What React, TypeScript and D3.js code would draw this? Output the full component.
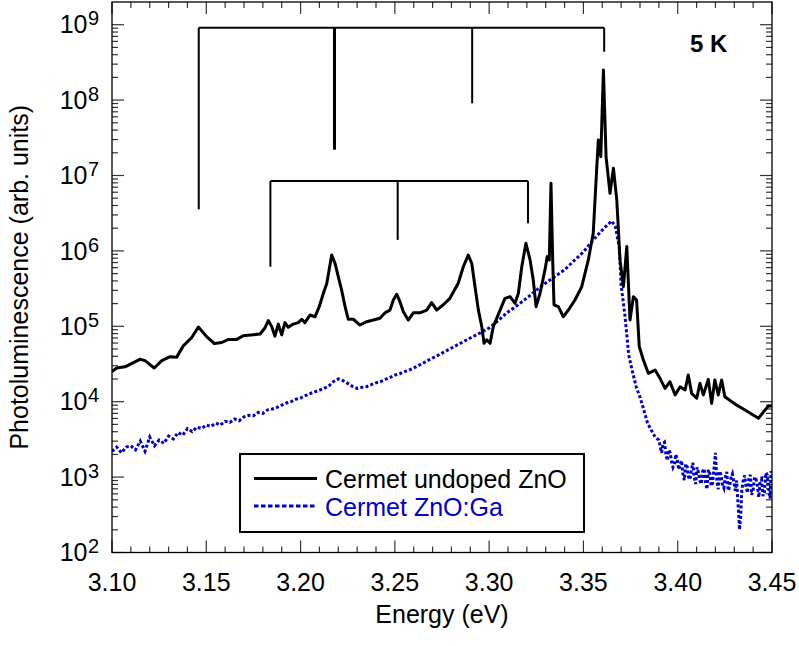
import React from "react";
import * as d3 from "d3";

// Energy (eV), PL intensity (arb. units)
const undopedZnO: [number, number][] = [
  [3.100, 2.5e4], [3.1025, 2.8e4], [3.1069, 2.9e4], [3.1148, 3.65e4], [3.1175, 3.5e4], [3.1224, 2.8e4],
  [3.1264, 3.5e4], [3.1308, 3.95e4], [3.1343, 3.9e4], [3.1378, 5.5e4], [3.1423, 7.1e4], [3.1458, 9.8e4],
  [3.1502, 7.3e4], [3.1543, 5.9e4], [3.1582, 6.1e4], [3.1617, 6.7e4], [3.1661, 6.7e4], [3.1696, 7.5e4],
  [3.1785, 7.9e4], [3.1811, 9.5e4], [3.1829, 1.19e5], [3.1847, 9.9e4], [3.1864, 7.4e4], [3.1882, 1.07e5],
  [3.19, 7.7e4], [3.1917, 1.12e5], [3.1935, 9.7e4], [3.1961, 1.07e5], [3.1988, 1.12e5], [3.2006, 1.24e5],
  [3.2023, 1.12e5], [3.205, 1.41e5], [3.2077, 1.34e5], [3.2099, 1.82e5], [3.2121, 2.74e5], [3.2139, 3.7e5],
  [3.2165, 8.8e5], [3.2183, 6.8e5], [3.2218, 3.0e5], [3.2236, 1.82e5], [3.2253, 1.24e5], [3.228, 1.24e5],
  [3.2315, 1.04e5], [3.2351, 1.15e5], [3.2386, 1.21e5], [3.2421, 1.28e5], [3.2448, 1.51e5], [3.2474, 1.64e5],
  [3.2492, 2.23e5], [3.251, 2.66e5], [3.2527, 2.12e5], [3.2545, 1.56e5], [3.2571, 1.21e5], [3.2598, 1.51e5],
  [3.2633, 1.51e5], [3.2669, 1.64e5], [3.2695, 2.06e5], [3.2722, 1.64e5], [3.2757, 1.93e5], [3.2792, 2.35e5],
  [3.2836, 3.72e5], [3.2863, 6.17e5], [3.2889, 8.8e5], [3.2908, 6.8e5], [3.2925, 3.35e5], [3.2943, 1.64e5],
  [3.2961, 9.9e4], [3.2973, 5.95e4], [3.2987, 6.6e4], [3.3005, 5.95e4], [3.3022, 9.9e4], [3.3058, 1.64e5],
  [3.3084, 2.35e5], [3.3111, 2.47e5], [3.3137, 2.02e5], [3.3155, 2.74e5], [3.3173, 6.17e5], [3.3195, 1.26e6],
  [3.3217, 7.6e5], [3.3234, 4.1e5], [3.3249, 1.82e5], [3.327, 2.74e5], [3.3296, 5.6e5], [3.3308, 8.4e5],
  [3.3319, 7.6e5], [3.3328, 7.9e6], [3.3337, 7.6e5], [3.3344, 1.92e5], [3.3367, 1.82e5], [3.3393, 1.34e5],
  [3.342, 1.64e5], [3.3455, 2.23e5], [3.3491, 3.35e5], [3.3526, 7.6e5], [3.3552, 1.71e6], [3.357, 1.18e7],
  [3.3579, 2.96e7], [3.3592, 1.78e7], [3.3606, 2.5e8], [3.362, 1.78e7], [3.3641, 5.8e6], [3.3659, 1.25e7],
  [3.3677, 4.7e6], [3.3694, 7.6e5], [3.3712, 3.35e5], [3.373, 1.14e6], [3.3747, 1.21e5], [3.3765, 2.47e5],
  [3.3782, 2.23e5], [3.3796, 5.4e4], [3.3818, 3.57e4], [3.3844, 2.38e4], [3.388, 2.63e4], [3.3906, 2.04e4],
  [3.3933, 1.5e4], [3.3959, 1.84e4], [3.3986, 1.23e4], [3.4013, 1.58e4], [3.4039, 1.43e4], [3.4056, 2.26e4],
  [3.4074, 1.29e4], [3.4101, 1.11e4], [3.4118, 1.75e4], [3.4136, 1.23e4], [3.4162, 1.98e4], [3.418, 9.5e3],
  [3.4197, 1.94e4], [3.4215, 1.23e4], [3.4233, 1.94e4], [3.425, 1.16e4], [3.4313, 9.0e3], [3.4357, 7.76e3],
  [3.4428, 6.03e3], [3.4481, 8.8e3], [3.45, 8.8e3],
];

const znoGa: [number, number][] = [
  [3.100, 2.2e3], [3.1025, 2.5e3], [3.105, 2.1e3], [3.1075, 2.5e3], [3.110, 2.6e3], [3.1125, 2.3e3],
  [3.115, 3.0e3], [3.1175, 2.2e3], [3.120, 3.4e3], [3.1225, 2.6e3], [3.125, 3.1e3], [3.1275, 2.8e3],
  [3.130, 3.5e3], [3.1325, 3.2e3], [3.135, 3.9e3], [3.1375, 3.6e3], [3.140, 4.4e3], [3.1425, 4.0e3],
  [3.145, 4.6e3], [3.1475, 4.4e3], [3.150, 4.9e3], [3.1525, 4.7e3], [3.155, 5.2e3], [3.1575, 4.9e3],
  [3.160, 5.5e3], [3.1625, 5.3e3], [3.165, 5.9e3], [3.1675, 5.6e3], [3.170, 6.3e3], [3.1725, 6.6e3],
  [3.175, 6.5e3], [3.1775, 7.2e3], [3.180, 7.0e3], [3.1825, 7.8e3], [3.185, 8.0e3], [3.1875, 8.4e3],
  [3.190, 9.0e3], [3.1925, 9.6e3], [3.195, 1.0e4], [3.1975, 1.08e4], [3.200, 1.12e4], [3.2025, 1.2e4],
  [3.205, 1.28e4], [3.2075, 1.35e4], [3.210, 1.42e4], [3.2125, 1.5e4], [3.215, 1.62e4], [3.2175, 1.85e4],
  [3.220, 2.0e4], [3.2225, 1.9e4], [3.225, 1.75e4], [3.2275, 1.6e4], [3.230, 1.5e4], [3.2325, 1.55e4],
  [3.235, 1.58e4], [3.2375, 1.68e4], [3.240, 1.78e4], [3.2425, 1.85e4], [3.245, 1.98e4], [3.2475, 2.1e4],
  [3.250, 2.25e4], [3.2525, 2.35e4], [3.255, 2.5e4], [3.2575, 2.62e4], [3.260, 2.8e4], [3.265, 3.25e4],
  [3.270, 3.8e4], [3.275, 4.4e4], [3.280, 5.15e4], [3.285, 6.0e4], [3.290, 7.0e4], [3.295, 8.1e4],
  [3.300, 9.5e4], [3.305, 1.2e5], [3.310, 1.55e5], [3.315, 1.9e5], [3.320, 2.37e5], [3.325, 3.0e5],
  [3.330, 3.75e5], [3.335, 4.6e5], [3.340, 5.6e5], [3.345, 7.4e5], [3.350, 9.7e5], [3.355, 1.38e6],
  [3.360, 1.89e6], [3.363, 2.25e6], [3.365, 2.5e6], [3.367, 2.07e6], [3.369, 1.12e6], [3.370, 3.5e5],
  [3.372, 1.4e5], [3.374, 4.2e4], [3.376, 2.5e4], [3.378, 1.57e4], [3.380, 1.15e4], [3.382, 7.8e3],
  [3.384, 5.2e3], [3.386, 4.2e3], [3.388, 3.4e3],
  [3.3900, 3.1e3], [3.39075, 2.5e3], [3.3915, 2.1e3], [3.39225, 2.8e3], [3.3930, 2.9e3], [3.39375, 2.0e3],
  [3.3945, 1.66e3], [3.39525, 2.3e3], [3.3960, 2.1e3], [3.39675, 1.6e3], [3.3975, 1.35e3], [3.39825, 1.5e3],
  [3.3990, 2.0e3], [3.39975, 1.7e3], [3.4005, 1.26e3], [3.40125, 1.45e3], [3.4020, 1.66e3], [3.40275, 1.1e3],
  [3.4035, 9.1e2], [3.40425, 1.5e3], [3.4050, 1.38e3], [3.40575, 1.0e3], [3.4065, 9.3e2], [3.40725, 1.25e3],
  [3.4080, 1.55e3], [3.40875, 1.0e3], [3.4095, 8.1e2], [3.41025, 1.35e3], [3.4110, 1.15e3], [3.41175, 9.0e2],
  [3.4125, 8.1e2], [3.41325, 1.2e3], [3.4140, 1.29e3], [3.41475, 8.6e2], [3.4155, 6.9e2], [3.41625, 1.25e3],
  [3.4170, 1.12e3], [3.41775, 7.6e2], [3.4185, 8.3e2], [3.41925, 1.3e3], [3.4200, 2.1e3], [3.42075, 9.0e2],
  [3.4215, 6.9e2], [3.42225, 1.2e3], [3.4230, 1.05e3], [3.42375, 8.0e2], [3.4245, 7.2e2], [3.42525, 1.0e3],
  [3.4260, 1.17e3], [3.42675, 6.6e2], [3.4275, 7.4e2], [3.42825, 9.8e2], [3.4290, 1.1e3], [3.42975, 8.6e2],
  [3.4305, 6.6e2], [3.43125, 9.0e2], [3.4320, 4.4e2], [3.4328, 2.0e2], [3.4334, 3.0e2], [3.4340, 6.8e2],
  [3.43475, 9.0e2], [3.4355, 1.05e3], [3.43625, 7.4e2], [3.4370, 6.2e2], [3.43775, 9.6e2], [3.4385, 1.07e3],
  [3.43925, 5.8e2], [3.4400, 6.8e2], [3.44075, 1.0e3], [3.4415, 9.5e2], [3.44225, 7.6e2], [3.4430, 5.4e2],
  [3.44375, 8.8e2], [3.4445, 9.3e2], [3.44525, 5.6e2], [3.4460, 6.3e2], [3.44675, 1.15e3], [3.4475, 1.07e3],
  [3.44825, 7.0e2], [3.4490, 5.2e2], [3.4495, 1.2e3], [3.4500, 1.07e3],
];

// LO-phonon replica markers
const upperBracketLevel = 9.1e8;
const upperBracketE = [3.146, 3.218, 3.291, 3.361];
const upperBracketEnds = [3.56e6, 2.2e7, 9.07e7, 4.38e8];
const lowerBracketLevel = 8.45e6;
const lowerBracketE = [3.184, 3.2515, 3.3206];
const lowerBracketEnds = [6.17e5, 1.4e6, 2.32e6];

const xTickLabels = ["3.10", "3.15", "3.20", "3.25", "3.30", "3.35", "3.40", "3.45"];
const yDecadeExponents = [2, 3, 4, 5, 6, 7, 8, 9];
const seriesNames = ["Cermet undoped ZnO", "Cermet ZnO:Ga"];
const temperatureLabel = "5 K";
const xTitle = "Energy (eV)";
const yTitle = "Photoluminescence (arb. units)";

const W = 799;
const H = 646;
const L = 112;
const R = 772;
const T = 2;
const B = 552.5;
const FONT = "'Liberation Sans', Arial, Helvetica, sans-serif";
const BLUE = "#0000cc";

export default function App() {
  const x = d3.scaleLinear().domain([3.1, 3.45]).range([L, R]);
  const y = d3.scaleLog().domain([100, 2e9]).range([B, T]);

  const line = d3
    .line<[number, number]>()
    .x((d) => x(d[0]))
    .y((d) => y(d[1]));

  const xMinor: { v: number; major: boolean }[] = [];
  for (let i = 0; i <= 35; i++) {
    xMinor.push({ v: 3.1 + i * 0.01, major: i % 5 === 0 });
  }
  const yTicks: { v: number; major: boolean }[] = [];
  yDecadeExponents.forEach((e) => {
    yTicks.push({ v: Math.pow(10, e), major: true });
    if (e < 9) for (let m = 2; m <= 9; m++) yTicks.push({ v: m * Math.pow(10, e), major: false });
  });

  const majLen = 12;
  const minLen = 6;

  return (
    <svg
      width={W}
      height={H}
      style={{ position: "absolute", left: 0, top: 0, background: "#fff" }}
      fontFamily={FONT}
    >
      <rect x={0} y={0} width={W} height={H} fill="#fff" />
      <defs>
        <clipPath id="plotclip">
          <rect x={L} y={T} width={R - L} height={B - T} />
        </clipPath>
      </defs>

      {/* ticks */}
      <g stroke="#333" strokeWidth={1.2}>
        {xMinor.map((t, i) => {
          const len = t.major ? majLen : minLen;
          const px = x(t.v);
          return (
            <g key={"xt" + i}>
              <line x1={px} x2={px} y1={B} y2={B - len} />
              <line x1={px} x2={px} y1={T} y2={T + len} />
            </g>
          );
        })}
        {yTicks.map((t, i) => {
          const len = t.major ? majLen : minLen;
          const py = y(t.v);
          return (
            <g key={"yt" + i}>
              <line x1={L} x2={L + len} y1={py} y2={py} />
              <line x1={R} x2={R - len} y1={py} y2={py} />
            </g>
          );
        })}
      </g>

      {/* phonon replica brackets */}
      <g stroke="#000" fill="none" strokeWidth={2}>
        <line
          x1={x(upperBracketE[0])}
          x2={x(upperBracketE[upperBracketE.length - 1])}
          y1={y(upperBracketLevel)}
          y2={y(upperBracketLevel)}
        />
        {upperBracketE.map((e, i) => (
          <line
            key={"ub" + i}
            x1={x(e)}
            x2={x(e)}
            y1={y(upperBracketLevel)}
            y2={y(upperBracketEnds[i])}
            strokeWidth={i === 1 ? 3 : 2}
          />
        ))}
        <line
          x1={x(lowerBracketE[0])}
          x2={x(lowerBracketE[lowerBracketE.length - 1])}
          y1={y(lowerBracketLevel)}
          y2={y(lowerBracketLevel)}
        />
        {lowerBracketE.map((e, i) => (
          <line
            key={"lb" + i}
            x1={x(e)}
            x2={x(e)}
            y1={y(lowerBracketLevel)}
            y2={y(lowerBracketEnds[i])}
          />
        ))}
      </g>

      {/* data */}
      <g clipPath="url(#plotclip)">
        <path
          d={line(znoGa) || ""}
          fill="none"
          stroke={BLUE}
          strokeWidth={3}
          strokeDasharray="3,2.2"
        />
        <path
          d={line(undopedZnO) || ""}
          fill="none"
          stroke="#000"
          strokeWidth={3}
          strokeLinejoin="round"
        />
      </g>

      {/* frame */}
      <rect x={L} y={T} width={R - L} height={B - T} fill="none" stroke="#000" strokeWidth={1.3} />

      {/* x tick labels */}
      {xTickLabels.map((s) => (
        <text key={s} x={x(+s)} y={591} fontSize={25} textAnchor="middle" fill="#000">
          {s}
        </text>
      ))}
      {/* y tick labels */}
      {yDecadeExponents.map((e) => {
        const py = y(Math.pow(10, e));
        return (
          <g key={"yl" + e}>
            <text x={87.5} y={py + 8.8} fontSize={25} textAnchor="end" fill="#000">
              10
            </text>
            <text x={88} y={py + 0.8} fontSize={20} textAnchor="start" fill="#000">
              {e}
            </text>
          </g>
        );
      })}

      {/* axis titles */}
      <text x={(L + R) / 2} y={623} fontSize={25} textAnchor="middle" fill="#000">
        {xTitle}
      </text>
      <text
        transform={`translate(28, ${(T + B) / 2}) rotate(-90)`}
        fontSize={25}
        textAnchor="middle"
        fill="#000"
      >
        {yTitle}
      </text>

      {/* temperature */}
      <text x={690} y={51.5} fontSize={24} fontWeight="bold" fill="#000">
        {temperatureLabel}
      </text>

      {/* legend */}
      <rect x={240} y={454} width={344} height={78} fill="#fff" stroke="#000" strokeWidth={2} />
      <line x1={254} x2={317} y1={478.5} y2={478.5} stroke="#000" strokeWidth={3} />
      <line x1={254} x2={317} y1={506} y2={506} stroke={BLUE} strokeWidth={3} strokeDasharray="4.5,2.5" />
      <text x={325} y={487.5} fontSize={25} fill="#000">
        {seriesNames[0]}
      </text>
      <text x={325} y={515.5} fontSize={25} fill={BLUE}>
        {seriesNames[1]}
      </text>
    </svg>
  );
}
